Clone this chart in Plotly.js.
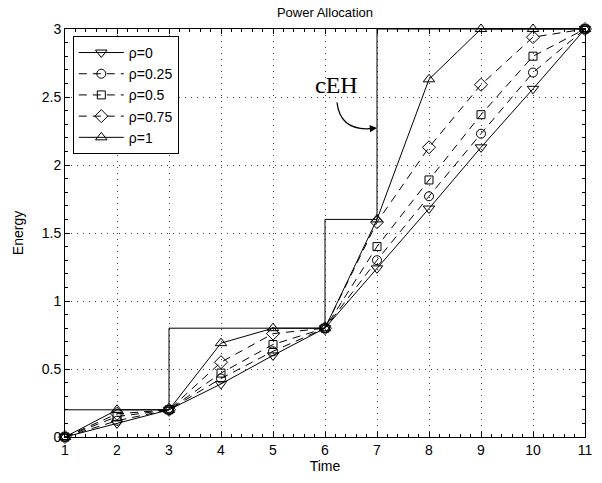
<!DOCTYPE html>
<html>
<head>
<meta charset="utf-8">
<script src="https://cdn.plot.ly/plotly-3.0.1.min.js"></script>
<style>html,body{margin:0;padding:0;background:#fff;}#chart{width:602px;height:483px;}</style>
</head>
<body>
<div id="chart"></div>
<script>
// ---- data ----
var timeSlots = [1, 2, 3, 4, 5, 6, 7, 8, 9, 10, 11];
var seriesNames = ['ρ=0', 'ρ=0.25', 'ρ=0.5', 'ρ=0.75', 'ρ=1'];
var energyRho0    = [0, 0.10, 0.20, 0.39, 0.60, 0.80, 1.24, 1.68, 2.13, 2.56, 3.00];
var energyRho025  = [0, 0.12, 0.20, 0.43, 0.63, 0.80, 1.30, 1.77, 2.23, 2.68, 3.00];
var energyRho05   = [0, 0.15, 0.20, 0.47, 0.68, 0.80, 1.40, 1.89, 2.37, 2.80, 3.00];
var energyRho075  = [0, 0.17, 0.20, 0.55, 0.76, 0.80, 1.58, 2.13, 2.59, 2.94, 3.00];
var energyRho1    = [0, 0.20, 0.20, 0.69, 0.80, 0.80, 1.60, 2.63, 3.00, 3.00, 3.00];
// cumulative harvested energy (cEH) staircase corners
var cehTimes  = [1, 3, 6, 7, 11];
var cehEnergy = [0.2, 0.8, 1.6, 3.0, 3.0];
var xTickVals = [1, 2, 3, 4, 5, 6, 7, 8, 9, 10, 11];
var yTickVals = [0, 0.5, 1, 1.5, 2, 2.5, 3];

var allSeries = [energyRho0, energyRho025, energyRho05, energyRho075, energyRho1];
var symbols = ['triangle-down-open', 'circle-open', 'square-open', 'diamond-open', 'triangle-up-open'];
var dashes  = ['solid', '8px,6px', '8px,6px', '8px,6px', 'solid'];
var sizes   = [10, 9, 8, 10, 10];

var traces = [];
for (var i = 0; i < allSeries.length; i++) {
  traces.push({
    x: timeSlots, y: allSeries[i], name: seriesNames[i],
    type: 'scatter', mode: 'lines+markers',
    line: {color: '#000', width: 1, dash: dashes[i]},
    marker: {symbol: symbols[i], size: sizes[i], color: '#000', line: {color: '#000', width: 1}},
    cliponaxis: false
  });
}
traces.push({
  x: cehTimes, y: cehEnergy, name: 'cEH', showlegend: false,
  type: 'scatter', mode: 'lines', line: {color: '#000', width: 1, shape: 'hv'},
  hoverinfo: 'skip', cliponaxis: false
});

var font = {family: 'Liberation Sans, Arial, sans-serif', color: '#000'};
var axisCommon = {
  showline: true, linecolor: '#000', linewidth: 1, mirror: 'allticks',
  ticks: 'inside', ticklen: 5, tickcolor: '#000', tickwidth: 1,
  showgrid: true, gridcolor: '#444', griddash: '1px,5px', gridwidth: 1,
  zeroline: false, tickfont: {family: font.family, size: 14, color: '#000'},
  fixedrange: true
};

var layout = {
  width: 602, height: 483,
  margin: {l: 65, r: 17, t: 29, b: 46},
  paper_bgcolor: '#fff', plot_bgcolor: '#fff',
  font: font,
  showlegend: true,
  title: {text: 'Power Allocation', font: {family: font.family, size: 13, color: '#000'},
          x: 0.5, xref: 'paper', y: 0.975, yref: 'container', yanchor: 'middle'},
  xaxis: Object.assign({}, axisCommon, {
    range: [1, 11], tickvals: xTickVals,
    minor: {dtick: 0.2, ticks: 'inside', ticklen: 3, tickcolor: '#000', showgrid: false},
    title: {text: 'Time', font: {family: font.family, size: 14, color: '#000'}, standoff: 4}
  }),
  yaxis: Object.assign({}, axisCommon, {
    range: [0, 3], tickvals: yTickVals,
    minor: {dtick: 0.1, ticks: 'inside', ticklen: 3, tickcolor: '#000', showgrid: false},
    title: {text: 'Energy', font: {family: font.family, size: 14, color: '#000'}, standoff: 14}
  }),
  legend: {
    x: 0.015, y: 0.983, xanchor: 'left', yanchor: 'top',
    bgcolor: '#fff', bordercolor: '#000', borderwidth: 1,
    font: {family: font.family, size: 14, color: '#000'},
    tracegroupgap: 0, itemwidth: 45
  },
  annotations: [
    {x: 6.23, y: 2.59, xref: 'x', yref: 'y', text: 'cEH', showarrow: false,
     font: {family: 'Liberation Serif, DejaVu Serif, serif', size: 24, color: '#000'}},
    {x: 7, y: 2.272, xref: 'x', yref: 'y', text: '', showarrow: true,
     arrowhead: 2, arrowsize: 1.2, arrowwidth: 1.2, arrowcolor: '#000',
     ax: -12, ay: 1, standoff: 0}
  ],
  shapes: [
    {type: 'path', xref: 'x', yref: 'y',
     path: 'M 6.23 2.46 Q 6.29 2.265 6.80 2.266',
     line: {color: '#000', width: 1.2}}
  ]
};

Plotly.newPlot('chart', traces, layout, {displayModeBar: false, staticPlot: true});
</script>
</body>
</html>
